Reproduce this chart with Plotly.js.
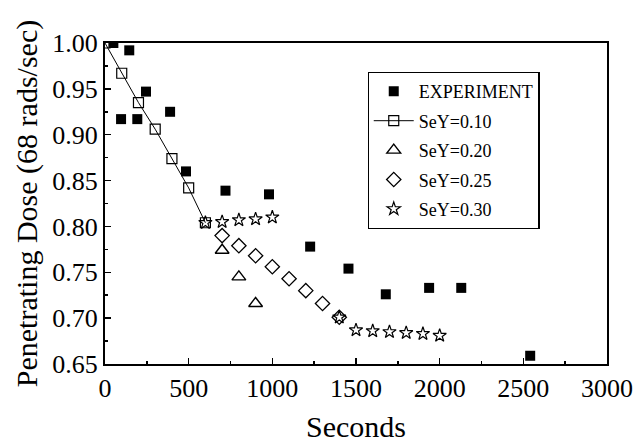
<!DOCTYPE html>
<html>
<head>
<meta charset="utf-8">
<script src="https://cdn.plot.ly/plotly-3.0.1.min.js"></script>
<style>html,body{margin:0;padding:0;background:#fff;}#chart{width:636px;height:445px;}</style>
</head>
<body>
<div id="chart"></div>
<script>
// Experimental data (filled squares)
const expX = [50, 145, 96, 193, 245, 389, 484, 720, 980, 1226, 1455, 1678, 1937, 2129, 2541];
const expY = [1.000, 0.992, 0.917, 0.917, 0.947, 0.925, 0.860, 0.839, 0.835, 0.778, 0.754, 0.726, 0.733, 0.733, 0.659];

// SeY = 0.10 (open squares with line)
const s10X = [0, 100, 200, 300, 400, 500, 600];
const s10Y = [1.000, 0.967, 0.935, 0.906, 0.874, 0.842, 0.804];

// SeY = 0.20 (triangles)
const s20X = [700, 800, 900];
const s20Y = [0.774, 0.745, 0.716];

// SeY = 0.25 (diamonds)
const s25X = [700, 800, 900, 1000, 1100, 1200, 1300, 1400];
const s25Y = [0.790, 0.779, 0.768, 0.756, 0.743, 0.730, 0.716, 0.701];

// SeY = 0.30 (stars)
const s30X = [600, 700, 800, 900, 1000, 1400, 1500, 1600, 1700, 1800, 1900, 2000];
const s30Y = [0.804, 0.805, 0.807, 0.808, 0.810, 0.701, 0.687, 0.686, 0.685, 0.684, 0.683, 0.681];

const seriesNames = ['EXPERIMENT', 'SeY=0.10', 'SeY=0.20', 'SeY=0.25', 'SeY=0.30'];

const FONT = 'Liberation Serif, Times New Roman, serif';

const traces = [
  {x: expX, y: expY, name: seriesNames[0], legendgroup: 'a', mode: 'markers', type: 'scatter',
   marker: {symbol: 'square', size: 10, color: '#000', line: {width: 0}}},
  {x: s10X, y: s10Y, name: seriesNames[1], legendgroup: 'b', mode: 'lines+markers', type: 'scatter',
   line: {color: '#000', width: 1},
   marker: {symbol: 'square-open', size: 10, color: '#000', line: {width: 1.2}}},
  {x: s20X, y: s20Y, name: seriesNames[2], legendgroup: 'c', mode: 'markers', type: 'scatter',
   marker: {symbol: 'triangle-up-open', size: 12, color: '#000', line: {width: 1.4}}},
  {x: s25X, y: s25Y, name: seriesNames[3], legendgroup: 'd', mode: 'markers', type: 'scatter',
   marker: {symbol: 'diamond-open', size: 11, color: '#000', line: {width: 1.3}}},
  {x: s30X, y: s30Y, name: seriesNames[4], legendgroup: 'e', mode: 'markers', type: 'scatter',
   marker: {symbol: 'star-open', size: 10, color: '#000', line: {width: 1.2}}}
];

const layout = {
  width: 636, height: 445,
  margin: {l: 105, r: 29, t: 43, b: 81},
  paper_bgcolor: '#fff', plot_bgcolor: '#fff',
  font: {family: FONT, color: '#000'},
  showlegend: true,
  legend: {
    x: 0.523, y: 0.91, xanchor: 'left', yanchor: 'top',
    bgcolor: '#fff', bordercolor: '#000', borderwidth: 1.2,
    font: {family: FONT, size: 18, color: '#000'},
    itemwidth: 40,
    tracegroupgap: 3
  },
  xaxis: {
    range: [0, 3000], tickvals: [0, 500, 1000, 1500, 2000, 2500, 3000],
    ticktext: ['0', '500', '1000', '1500', '2000', '2500', '3000'],
    ticks: 'inside', ticklen: 6, tickwidth: 1.5, tickcolor: '#000',
    minor: {dtick: 250, tick0: 0, ticks: 'inside', ticklen: 3, tickwidth: 1.5, tickcolor: '#000'},
    showline: true, linecolor: '#000', linewidth: 2, mirror: true,
    showgrid: false, zeroline: false,
    tickfont: {family: FONT, size: 26, color: '#000'},
    title: {text: 'Seconds', font: {family: FONT, size: 30, color: '#000'}, standoff: 14}
  },
  yaxis: {
    range: [0.65, 1.00], tickvals: [0.65, 0.70, 0.75, 0.80, 0.85, 0.90, 0.95, 1.00],
    ticktext: ['0.65', '0.70', '0.75', '0.80', '0.85', '0.90', '0.95', '1.00'],
    ticks: 'inside', ticklen: 6, tickwidth: 1.5, tickcolor: '#000',
    minor: {dtick: 0.025, tick0: 0.65, ticks: 'inside', ticklen: 3, tickwidth: 1.5, tickcolor: '#000'},
    showline: true, linecolor: '#000', linewidth: 2, mirror: true,
    showgrid: false, zeroline: false,
    tickfont: {family: FONT, size: 26, color: '#000'},
    title: {text: 'Penetrating Dose (68 rads/sec)', font: {family: FONT, size: 30, color: '#000'}, standoff: 6}
  }
};

Plotly.newPlot('chart', traces, layout, {displayModeBar: false, staticPlot: true});
</script>
</body>
</html>
